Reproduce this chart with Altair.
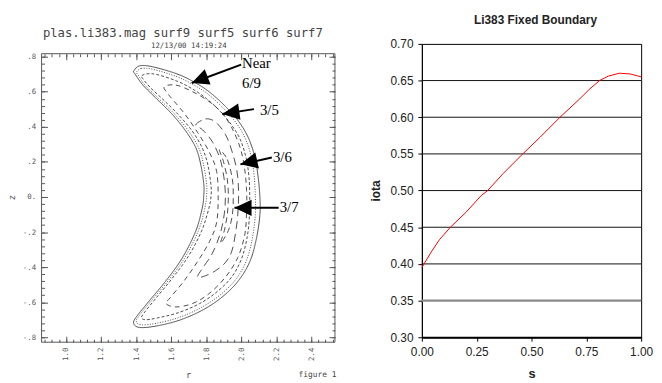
import altair as alt
import pandas as pd

# ---------------- Right panel: rotational transform profile ----------------
s_vals = [0.00, 0.04, 0.08, 0.13, 0.20, 0.27, 0.30, 0.37, 0.46, 0.54, 0.63, 0.72, 0.76, 0.81, 0.85, 0.90, 0.95, 1.00]
iota_vals = [0.395, 0.415, 0.433, 0.450, 0.470, 0.493, 0.500, 0.523, 0.550, 0.573, 0.600, 0.625, 0.637, 0.650, 0.656, 0.660, 0.659, 0.655]
grid_levels = [0.35, 0.40, 0.45, 0.50, 0.55, 0.60, 0.65]
grid_colors = ["#8a8a8a", "#111111", "#111111", "#111111", "#111111", "#111111", "#111111"]
grid_widths = [2.2, 1, 1, 1, 1, 1, 1]
iota_ticks = [0.30, 0.35, 0.40, 0.45, 0.50, 0.55, 0.60, 0.65, 0.70]
s_ticks = [0.0, 0.25, 0.5, 0.75, 1.0]
right_title = "Li383 Fixed Boundary"

# ---------------- Left panel: Poincare surfaces ----------------
c0_r = [1.386, 1.420, 1.496, 1.627, 1.721, 1.815, 1.909, 1.984, 2.040, 2.078, 2.096, 2.106, 2.106, 2.087, 2.050, 1.984, 1.890, 1.777, 1.646, 1.514, 1.420, 1.386, 1.402, 1.477, 1.571, 1.665, 1.740, 1.777, 1.786, 1.786, 1.768, 1.740, 1.683, 1.608, 1.514, 1.439, 1.392]
c0_z = [0.717, 0.748, 0.742, 0.704, 0.661, 0.601, 0.517, 0.432, 0.338, 0.225, 0.113, 0.000, -0.101, -0.233, -0.365, -0.477, -0.571, -0.646, -0.703, -0.736, -0.744, -0.721, -0.683, -0.590, -0.477, -0.345, -0.195, -0.064, 0.011, 0.075, 0.188, 0.282, 0.376, 0.469, 0.563, 0.638, 0.704]

c1_r = [1.402, 1.430, 1.500, 1.627, 1.718, 1.808, 1.896, 1.968, 2.022, 2.058, 2.074, 2.080, 2.080, 2.064, 2.030, 1.970, 1.880, 1.772, 1.645, 1.516, 1.430, 1.402, 1.415, 1.490, 1.584, 1.678, 1.754, 1.792, 1.802, 1.802, 1.784, 1.756, 1.698, 1.622, 1.528, 1.452, 1.408]
c1_z = [0.712, 0.733, 0.727, 0.688, 0.645, 0.588, 0.508, 0.426, 0.335, 0.225, 0.113, 0.000, -0.101, -0.230, -0.360, -0.468, -0.558, -0.630, -0.687, -0.720, -0.729, -0.712, -0.680, -0.588, -0.476, -0.345, -0.195, -0.064, 0.011, 0.075, 0.188, 0.282, 0.378, 0.470, 0.562, 0.636, 0.700]

c2_r = [1.431, 1.460, 1.520, 1.630, 1.715, 1.800, 1.880, 1.945, 1.995, 2.028, 2.044, 2.048, 2.047, 2.034, 2.002, 1.946, 1.862, 1.762, 1.640, 1.520, 1.455, 1.431, 1.450, 1.515, 1.605, 1.697, 1.773, 1.815, 1.828, 1.826, 1.808, 1.776, 1.720, 1.645, 1.560, 1.480, 1.436]
c2_z = [0.690, 0.702, 0.698, 0.662, 0.620, 0.562, 0.488, 0.410, 0.325, 0.220, 0.110, 0.000, -0.100, -0.225, -0.350, -0.455, -0.540, -0.608, -0.660, -0.690, -0.700, -0.688, -0.655, -0.575, -0.465, -0.340, -0.195, -0.064, 0.011, 0.075, 0.188, 0.282, 0.376, 0.465, 0.550, 0.625, 0.678]

c3_r = [1.561, 1.627, 1.721, 1.815, 1.890, 1.946, 1.993, 2.018, 2.030, 2.030, 2.020, 1.980, 1.909, 1.815, 1.721, 1.627, 1.571, 1.594, 1.673, 1.752, 1.819, 1.859, 1.868, 1.859, 1.819, 1.752, 1.673, 1.583]
c3_z = [0.629, 0.638, 0.601, 0.545, 0.479, 0.394, 0.282, 0.169, 0.038, -0.083, -0.214, -0.345, -0.458, -0.552, -0.608, -0.627, -0.608, -0.575, -0.479, -0.366, -0.253, -0.146, 0.000, 0.146, 0.253, 0.366, 0.479, 0.586]

c4_r = [1.740, 1.796, 1.852, 1.909, 1.946, 1.975, 1.984, 1.982, 1.971, 1.946, 1.909, 1.852, 1.796, 1.749, 1.779, 1.835, 1.880, 1.903, 1.909, 1.903, 1.880, 1.835, 1.779]
c4_z = [0.411, 0.445, 0.428, 0.357, 0.263, 0.150, 0.038, -0.068, -0.180, -0.308, -0.374, -0.421, -0.449, -0.458, -0.406, -0.321, -0.208, -0.096, 0.000, 0.096, 0.214, 0.315, 0.383]

c5_r = [1.875, 1.920, 1.949, 1.954, 1.949, 1.926, 1.881, 1.903, 1.920, 1.926, 1.920, 1.898]
c5_z = [0.270, 0.214, 0.101, 0.000, -0.101, -0.192, -0.265, -0.192, -0.101, 0.000, 0.101, 0.203]

curve_names = ["surf_outer", "surf9", "surf5", "surf6", "surf7", "surf_core"]
dash_styles = [[1, 0], [1, 1.6], [3, 2], [5, 4], [8, 5], [6, 4]]

arrow_tail_r = [1.999, 2.072, 2.174, 2.213]
arrow_tail_z = [0.755, 0.501, 0.225, -0.062]
arrow_tip_r = [1.717, 1.892, 1.995, 1.961]
arrow_tip_z = [0.650, 0.473, 0.186, -0.062]
arrow_angle = [339, 352, 347, 0]

label_text = ["Near", "6/9", "3/5", "3/6", "3/7"]
label_r = [2.004, 2.004, 2.106, 2.180, 2.219]
label_z = [0.761, 0.648, 0.496, 0.225, -0.056]

left_title = "plas.li383.mag surf9 surf5 surf6 surf7"
left_date = "12/13/00 14:19:24"
figure_label = "figure 1"

r_major = [1.0, 1.2, 1.4, 1.6, 1.8, 2.0, 2.2, 2.4]
z_major = [-0.8, -0.6, -0.4, -0.2, 0.0, 0.2, 0.4, 0.6, 0.8]
r_minor = [round(0.88 + 0.04 * i, 2) for i in range(42)]
z_minor = [round(-0.80 + 0.04 * i, 2) for i in range(41)]
r_domain = [0.861, 2.534]
z_domain = [-0.828, 0.873]
frame_r = [0.861, 2.534]
frame_z = [-0.828, 0.817]

# ---------------- build tables ----------------
rows = []
for name, rs, zs in zip(curve_names, [c0_r, c1_r, c2_r, c3_r, c4_r, c5_r], [c0_z, c1_z, c2_z, c3_z, c4_z, c5_z]):
    for i, (r, z) in enumerate(zip(rs, zs)):
        rows.append({"curve": name, "i": i, "r": r, "z": z})
curve_df = pd.DataFrame(rows)
arrow_df = pd.DataFrame({"r": arrow_tail_r, "z": arrow_tail_z, "r2": arrow_tip_r, "z2": arrow_tip_z, "ang": arrow_angle})
label_df = pd.DataFrame({"t": label_text, "r": label_r, "z": label_z})
frame_df = pd.DataFrame({"r": [frame_r[0]], "r2": [frame_r[1]], "z": [frame_z[0]], "z2": [frame_z[1]]})
pts_df = pd.DataFrame({"r": frame_r, "z": frame_z})

MONO = "DejaVu Sans Mono"
GRAY = "#555555"
W_L, H_L = 297, 302
TOP_GAP = 10

xs = alt.Scale(domain=r_domain, nice=False, zero=False)
ys = alt.Scale(domain=z_domain, nice=False, zero=False)

frame = alt.Chart(frame_df).mark_rect(fillOpacity=0, stroke=GRAY, strokeWidth=1).encode(
    x=alt.X("r:Q", scale=xs, axis=None), x2="r2:Q",
    y=alt.Y("z:Q", scale=ys, axis=None), y2="z2:Q")

curves = alt.Chart(curve_df).mark_line(color="#3a3a3a", strokeWidth=0.9, interpolate="cardinal-closed").encode(
    x=alt.X("r:Q", scale=xs, axis=None),
    y=alt.Y("z:Q", scale=ys, axis=None),
    order=alt.Order("i:Q"),
    strokeDash=alt.StrokeDash("curve:N", scale=alt.Scale(domain=curve_names, range=dash_styles), legend=None))

shafts = alt.Chart(arrow_df).mark_rule(color="black", strokeWidth=2).encode(
    x=alt.X("r:Q", scale=xs, axis=None), x2="r2:Q",
    y=alt.Y("z:Q", scale=ys, axis=None), y2="z2:Q")

heads = alt.Chart(arrow_df).mark_point(shape="M0,0L2,-0.95L2,0.95Z", filled=True, color="black",
                                       size=300, opacity=1, strokeWidth=0).encode(
    x=alt.X("r2:Q", scale=xs, axis=None),
    y=alt.Y("z2:Q", scale=ys, axis=None),
    angle=alt.Angle("ang:Q", scale=None))

labels = alt.Chart(label_df).mark_text(font="Liberation Serif", fontSize=15, align="left",
                                       baseline="middle", color="black").encode(
    x=alt.X("r:Q", scale=xs, axis=None), y=alt.Y("z:Q", scale=ys, axis=None), text="t:N")

title_df = pd.DataFrame({"t": [left_title]})
date_df = pd.DataFrame({"t": [left_date]})
fig_df = pd.DataFrame({"t": [figure_label]})
title_txt = alt.Chart(title_df).mark_text(font=MONO, fontSize=12.4, color="#444444", align="center",
                                          baseline="middle").encode(
    x=alt.value(143), y=alt.value(-11), text="t:N")
date_txt = alt.Chart(date_df).mark_text(font=MONO, fontSize=7.5, color="#444444", align="center",
                                        baseline="middle").encode(
    x=alt.value(149), y=alt.value(2), text="t:N")
fig_txt = alt.Chart(fig_df).mark_text(font=MONO, fontSize=8, color="#444444", align="left",
                                      baseline="middle").encode(
    x=alt.value(260), y=alt.value(335), text="t:N")

z_label_expr = "datum.value == 0 ? '0.' : replace(replace(format(datum.value, '.1f'), '0.', '.'), '\u2212', '-')"

lab_x = alt.Axis(orient="bottom", values=r_major, format=".1f", labelAngle=270, labelFont=MONO,
                 labelFontSize=7.5, labelColor=GRAY, labelPadding=5, ticks=False, domain=False, grid=False,
                 titleFont=MONO, titleFontSize=9, titleFontWeight="normal", titleColor=GRAY,
                 titleY=33, titleBaseline="middle")
lab_y = alt.Axis(orient="left", values=z_major, labelExpr=z_label_expr, labelFont=MONO,
                 labelFontSize=7.5, labelColor=GRAY, labelPadding=6, ticks=False, domain=False, grid=False,
                 titleFont=MONO, titleFontSize=9, titleFontWeight="normal", titleColor=GRAY,
                 titleX=-30, titleY=155, titleAngle=270, titleBaseline="middle")


def tick_axis(orient, values, size, offset):
    return alt.Axis(orient=orient, values=values, tickSize=size, offset=offset, labels=False,
                    domain=False, grid=False, title=None, tickColor=GRAY, tickWidth=1)


def axis_layer(xaxis, yaxis, xtitle=None, ytitle=None):
    return alt.Chart(pts_df).mark_point(opacity=0).encode(
        x=alt.X("r:Q", scale=xs, axis=xaxis, title=xtitle),
        y=alt.Y("z:Q", scale=ys, axis=yaxis, title=ytitle))


ax_lab = axis_layer(lab_x, lab_y, "r", "z")
ax_major_bl = axis_layer(tick_axis("bottom", r_major, 6, -6), tick_axis("left", z_major, 6, -6))
ax_minor_bl = axis_layer(tick_axis("bottom", r_minor, 3, -3), tick_axis("left", z_minor, 3, -3))
ax_major_tr = axis_layer(tick_axis("top", r_major, 6, -(TOP_GAP + 6)), tick_axis("right", z_major, 6, -6))
ax_minor_tr = axis_layer(tick_axis("top", r_minor, 3, -(TOP_GAP + 3)), tick_axis("right", z_minor, 3, -3))

left = alt.layer(frame, curves, shafts, heads, labels, title_txt, date_txt, fig_txt,
                 ax_lab, ax_major_bl, ax_minor_bl, ax_major_tr, ax_minor_tr).resolve_axis(
    x="independent", y="independent").properties(width=W_L, height=H_L)

# ---------------- right chart ----------------
iota_df = pd.DataFrame({"s": s_vals, "iota": iota_vals})
grid_df = pd.DataFrame({"g": grid_levels, "c": grid_colors, "w": grid_widths})
SANS = "Liberation Sans"
sx = alt.Scale(domain=[0, 1], nice=False, zero=False)
sy = alt.Scale(domain=[0.3, 0.7], nice=False, zero=False)

x_axis_r = alt.Axis(values=s_ticks, format=".2f", labelFont=SANS, labelFontSize=12, labelColor="#222222",
                    labelFlush=False, tickSize=4, tickColor="black", domainColor="black", domainWidth=2,
                    grid=False, labelPadding=5, titleFont=SANS, titleFontSize=13, titleFontWeight="bold",
                    titleColor="#222222", titleY=37, titleBaseline="middle")
y_axis_r = alt.Axis(values=iota_ticks, format=".2f", labelFont=SANS, labelFontSize=12, labelColor="#222222",
                    labelFlush=False, tickSize=4, tickColor="black", domainColor="black", domainWidth=1,
                    grid=False, labelPadding=5, titleFont=SANS, titleFontSize=12, titleFontWeight="bold",
                    titleColor="#222222", titleX=-47, titleAngle=270, titleBaseline="middle")

grid = alt.Chart(grid_df).mark_rule().encode(
    y=alt.Y("g:Q", scale=sy, axis=y_axis_r, title="iota"),
    color=alt.Color("c:N", scale=None),
    strokeWidth=alt.StrokeWidth("w:Q", scale=None))

line = alt.Chart(iota_df).mark_line(color="#ff0000", strokeWidth=1).encode(
    x=alt.X("s:Q", scale=sx, title="s", axis=x_axis_r),
    y=alt.Y("iota:Q", scale=sy, title="iota", axis=y_axis_r))

right = alt.layer(grid, line).properties(
    width=222, height=297,
    title=alt.TitleParams(text=right_title, font=SANS, fontSize=12, fontWeight="bold", color="#222222",
                          offset=11, dx=4, anchor="middle", frame="group"),
    view=alt.ViewBackground(stroke="black", strokeWidth=1))

chart = alt.hconcat(left, right, spacing=88, bounds="flush").properties(
    padding={"left": 0, "top": 3, "right": 0, "bottom": 0}).configure_view(stroke=None)

chart.save("out.html", embed_options={"renderer": "svg", "actions": False})
